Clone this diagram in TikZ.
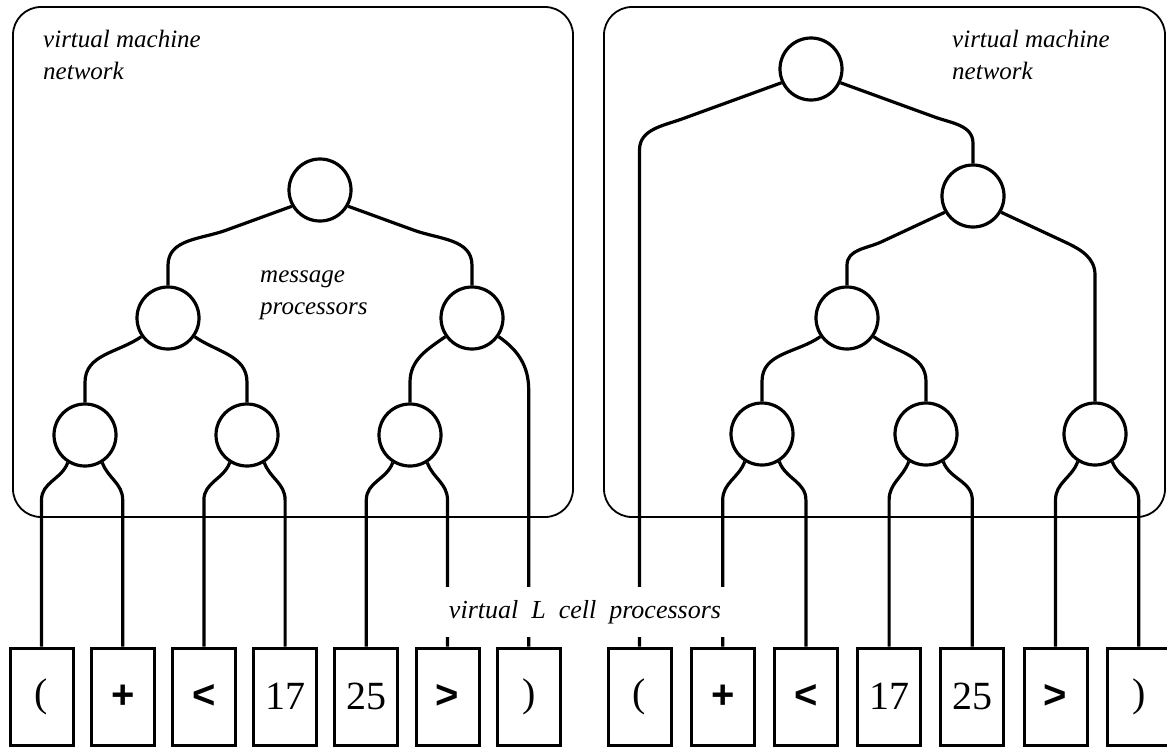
\documentclass[tikz,border=0pt]{standalone}
\usepackage{fontspec}
\setmainfont{Liberation Serif}
\newfontfamily\opfont{Liberation Sans}
\tikzset{
	panel/.style={draw, line width=1.8pt, rounded corners=28pt},
	proc/.style={draw, circle, line width=3.2pt, minimum size=62pt, inner sep=0pt},
	cell/.style={draw, rectangle, line width=3pt, minimum width=63pt, minimum height=97pt, inner sep=0pt, font=\fontsize{40}{40}\selectfont},
	wire/.style={line width=3.2pt},
	lbl/.style={inner sep=0pt, align=left, font=\fontsize{25}{32}\selectfont\itshape}
}
\begin{document}
\begin{tikzpicture}[x=1pt,y=1pt]
		\useasboundingbox (0,0) rectangle (1167,-747);
		% the two machine networks
		\draw[panel] (13,-7) rectangle (573,-517);
		\draw[panel] (604,-7) rectangle (1165,-517);
		\node[lbl, anchor=north west] (lnet) at (43,-30) {virtual machine\\network};
		\node[lbl, anchor=north west] (rnet) at (952,-30) {virtual machine\\network};
		\node[lbl, anchor=north west] (msg) at (260,-271) {message\\processors};
		% message processors, left
		\node[proc] (lm0) at (320,-190) {};
		\node[proc] (lm1) at (168,-318) {};
		\node[proc] (lm2) at (472,-318) {};
		\node[proc] (lm3) at (85,-435) {};
		\node[proc] (lm4) at (247,-435) {};
		\node[proc] (lm5) at (410,-435) {};
		% message processors, right
		\node[proc] (rm0) at (811,-69) {};
		\node[proc] (rm1) at (973,-196) {};
		\node[proc] (rm2) at (847,-318) {};
		\node[proc] (rm3) at (762,-434) {};
		\node[proc] (rm4) at (926,-434) {};
		\node[proc] (rm5) at (1095,-434) {};
		% cells
		\foreach \t [count=\i] in {{(},{\opfont\bfseries +},{\opfont\bfseries <},17,25,{\opfont\bfseries >},{)}}
		{
			\node[cell] (lc\i) at ({-39.7+81.2*\i},-696.5) {\t};
			\node[cell] (rc\i) at ({556.3+83.2*\i},-696.5) {\t};
		}
		% left tree
		\draw[wire] (lm0.210) -- ++(200:70) to[out=200,in=90] ([yshift=20pt]lm1.north) -- (lm1.north);
		\draw[wire] (lm0.330) -- ++(340:70) to[out=340,in=90] ([yshift=20pt]lm2.north) -- (lm2.north);
		\draw[wire] (lm1.215) to[out=215,in=90] ([yshift=20pt]lm3.north) -- (lm3.north);
		\draw[wire] (lm1.325) to[out=325,in=90] ([yshift=20pt]lm4.north) -- (lm4.north);
		\draw[wire] (lm2.215) to[out=215,in=90] ([yshift=20pt]lm5.north) -- (lm5.north);
		\draw[wire] (lm2.325) to[out=325,in=90] (lc7.north |- 0,-390) -- (lc7.north);
		% right tree
		\draw[wire] (rm0.205) -- ++(200:105) to[out=200,in=90] (rc1.north |- 0,-150) -- (rc1.north);
		\draw[wire] (rm0.335) -- ++(340:100) to[out=340,in=90] ([yshift=20pt]rm1.north) -- (rm1.north);
		\draw[wire] (rm1.210) -- ++(205:70) to[out=205,in=90] ([yshift=20pt]rm2.north) -- (rm2.north);
		\draw[wire] (rm1.330) -- ++(335:70) to[out=335,in=90] (rm5.north |- 0,-275) -- (rm5.north);
		\draw[wire] (rm2.215) to[out=215,in=90] ([yshift=20pt]rm3.north) -- (rm3.north);
		\draw[wire] (rm2.325) to[out=325,in=90] ([yshift=20pt]rm4.north) -- (rm4.north);
		% leaves down to the cells
		\foreach \m/\l/\r in {lm3/lc1/lc2, lm4/lc3/lc4, lm5/lc5/lc6, rm3/rc2/rc3, rm4/rc4/rc5, rm5/rc6/rc7}
		{
			\draw[wire] (\m.238) to[out=250,in=90] (\l.north |- 0,-500) -- (\l.north);
			\draw[wire] (\m.302) to[out=290,in=90] (\r.north |- 0,-500) -- (\r.north);
		}
		\node[font=\fontsize{26}{30}\selectfont\itshape, fill=white, inner xsep=6pt, inner ysep=0pt, minimum height=50pt] (cells) at (585,-612) {virtual\ \ L\ \ cell\ \ processors};
\end{tikzpicture}
\end{document}
